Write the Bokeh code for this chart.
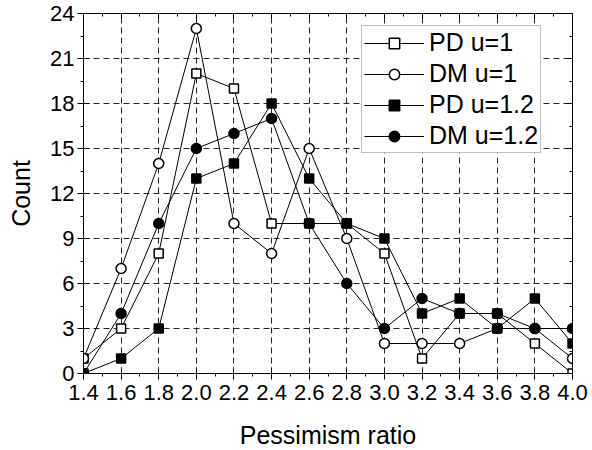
from bokeh.plotting import figure
from bokeh.models import (Range1d, FixedTicker, LinearAxis, Legend, LegendItem,
                          NumeralTickFormatter)
from bokeh.embed import file_html
from bokeh.resources import INLINE

ratio = [1.4, 1.6, 1.8, 2.0, 2.2, 2.4, 2.6, 2.8, 3.0, 3.2, 3.4, 3.6, 3.8, 4.0]
pd_u1 = [1, 3, 8, 20, 19, 10, 10, 10, 8, 1, 4, 4, 2, 0]
dm_u1 = [1, 7, 14, 23, 10, 8, 15, 9, 2, 2, 2, 3, 3, 1]
pd_u12 = [0, 1, 3, 13, 14, 18, 13, 10, 9, 4, 5, 3, 5, 2]
dm_u12 = [0, 4, 10, 15, 16, 17, 10, 6, 3, 5, 4, 4, 3, 3]

x_ticks = [1.4, 1.6, 1.8, 2.0, 2.2, 2.4, 2.6, 2.8, 3.0, 3.2, 3.4, 3.6, 3.8, 4.0]
x_minor = [1.5, 1.7, 1.9, 2.1, 2.3, 2.5, 2.7, 2.9, 3.1, 3.3, 3.5, 3.7, 3.9]
y_ticks = [0, 3, 6, 9, 12, 15, 18, 21, 24]
y_minor = [1.5, 4.5, 7.5, 10.5, 13.5, 16.5, 19.5, 22.5]

labels = ["PD u=1", "DM u=1", "PD u=1.2", "DM u=1.2"]

FONT = "Liberation Sans"

p = figure(width=592, height=450, output_backend="svg", toolbar_location=None,
           x_range=Range1d(1.4, 4.0), y_range=Range1d(0, 24),
           frame_width=489, frame_height=360,
           x_axis_location=None, y_axis_location=None,
           min_border_left=83, min_border_top=13, min_border_right=20,
           min_border_bottom=77)
p.outline_line_color = "black"
p.outline_line_width = 1
p.background_fill_color = "white"
p.border_fill_color = "white"

xt = FixedTicker(ticks=x_ticks, minor_ticks=x_minor)
yt = FixedTicker(ticks=y_ticks, minor_ticks=y_minor)

def style(ax, tin, tout, min_in, min_out):
    ax.major_tick_in = tin
    ax.major_tick_out = tout
    ax.minor_tick_in = min_in
    ax.minor_tick_out = min_out
    ax.axis_line_color = "black"
    ax.major_tick_line_color = "black"
    ax.minor_tick_line_color = "black"

xb = LinearAxis(ticker=xt, formatter=NumeralTickFormatter(format="0.0"),
                axis_label="Pessimism ratio")
style(xb, 6, 6, 0, 3)
xb.major_label_text_font = FONT
xb.major_label_text_font_size = "22px"
xb.major_label_text_color = "black"
xb.major_label_standoff = 5
xb.axis_label_text_font = FONT
xb.axis_label_text_font_size = "25px"
xb.axis_label_text_font_style = "normal"
xb.axis_label_text_color = "black"
xb.axis_label_standoff = 18
p.add_layout(xb, "below")

yl = LinearAxis(ticker=yt, axis_label="Count")
style(yl, 6, 6, 0, 3)
yl.major_label_text_font = FONT
yl.major_label_text_font_size = "22px"
yl.major_label_text_color = "black"
yl.major_label_standoff = 3
yl.axis_label_text_font = FONT
yl.axis_label_text_font_size = "25px"
yl.axis_label_text_font_style = "normal"
yl.axis_label_text_color = "black"
yl.axis_label_standoff = 12
p.add_layout(yl, "left")

xtp = LinearAxis(ticker=xt, major_label_overrides={t: "" for t in x_ticks},
                 major_label_standoff=0)
style(xtp, 5, 0, 3, 0)
p.add_layout(xtp, "above")
yr = LinearAxis(ticker=yt, major_label_overrides={t: "" for t in y_ticks},
                major_label_standoff=0)
style(yr, 5, 0, 3, 0)
p.add_layout(yr, "right")

p.xgrid.ticker = xt
p.ygrid.ticker = yt
for g in (p.xgrid, p.ygrid):
    g.grid_line_color = "black"
    g.grid_line_dash = "6 4"
    g.grid_line_width = 1
    g.grid_line_alpha = 0.85

series = [
    (pd_u1, "square", "white", 9),
    (dm_u1, "circle", "white", 10),
    (pd_u12, "square", "black", 9),
    (dm_u12, "circle", "black", 10),
]
items = []
for (ys, marker, fill, size), lab in zip(series, labels):
    ln = p.line(ratio, ys, line_color="black", line_width=1)
    sc = p.scatter(ratio, ys, marker=marker, size=size, fill_color=fill,
                   line_color="black", line_width=1.5)
    items.append(LegendItem(label=lab, renderers=[ln, sc]))

legend = Legend(items=items, location=(278, 220))
legend.label_text_font = FONT
legend.label_text_font_size = "25px"
legend.label_text_color = "black"
legend.label_height = 26
legend.glyph_height = 26
legend.glyph_width = 60
legend.label_standoff = 5
legend.spacing = 2
legend.padding = 2
legend.margin = 0
legend.border_line_color = "#808080"
legend.border_line_width = 1
legend.background_fill_color = "white"
legend.background_fill_alpha = 1
p.add_layout(legend, "center")

open("out.html", "w").write(file_html(p, INLINE))
